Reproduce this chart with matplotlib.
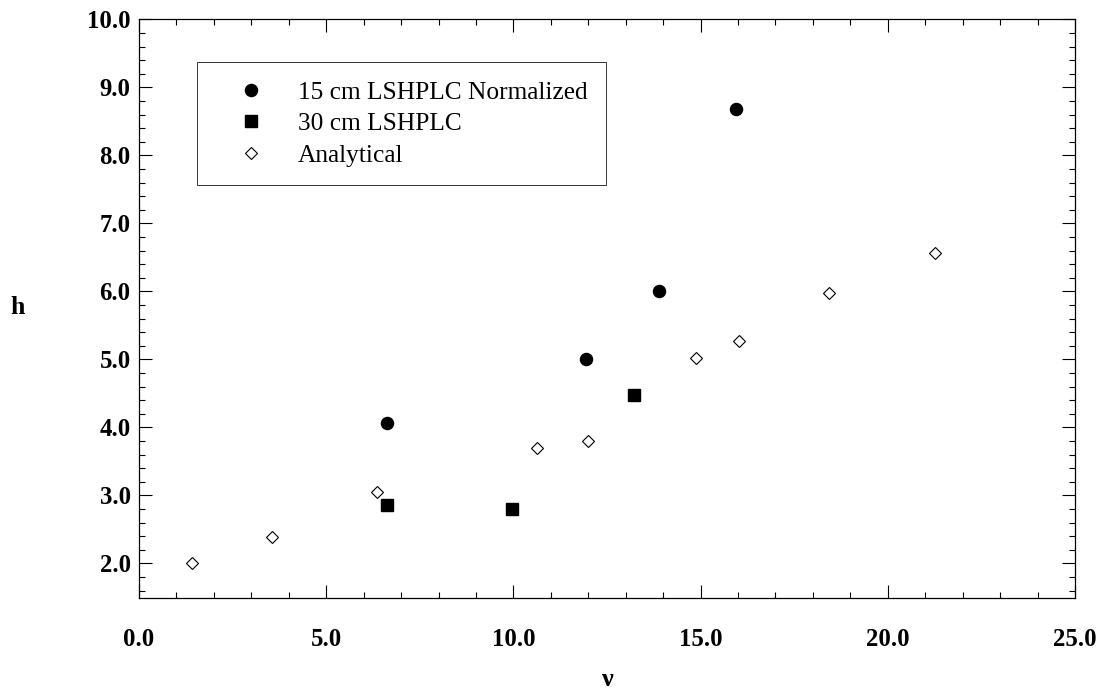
import matplotlib
matplotlib.use("Agg")
import matplotlib.pyplot as plt
from matplotlib.ticker import MultipleLocator, FormatStrFormatter

# Data
norm15_x = [6.62, 11.95, 13.9, 15.95]
norm15_h = [4.07, 5.01, 6.0, 8.68]

lshplc30_x = [6.62, 9.95, 13.23]
lshplc30_h = [2.86, 2.80, 4.48]

analytical_x = [1.42, 3.55, 6.37, 10.63, 11.98, 14.87, 16.02, 18.42, 21.25]
analytical_h = [2.00, 2.39, 3.05, 3.70, 3.80, 5.02, 5.27, 5.98, 6.56]

labels = ["15 cm LSHPLC Normalized", "30 cm LSHPLC", "Analytical"]

serif = ["Liberation Serif", "DejaVu Serif"]
plt.rcParams["font.family"] = serif

fig = plt.figure(figsize=(10.99, 6.91), dpi=100)
ax = fig.add_axes([139 / 1099, 1 - 597.5 / 691, (1075 - 139) / 1099, (597.5 - 19.3) / 691])

ax.plot(norm15_x, norm15_h, linestyle="none", marker="o", markersize=8.7,
        color="black", label=labels[0])
ax.plot(lshplc30_x, lshplc30_h, linestyle="none", marker="s", markersize=9.2,
        color="black", label=labels[1])
ax.plot(analytical_x, analytical_h, linestyle="none", marker="D", markersize=6.2,
        markerfacecolor="white", markeredgecolor="black", markeredgewidth=0.8,
        label=labels[2])

ax.set_xlim(0, 25)
ax.set_ylim(1.5, 10)
ax.xaxis.set_major_locator(MultipleLocator(5))
ax.xaxis.set_minor_locator(MultipleLocator(1))
ax.yaxis.set_major_locator(MultipleLocator(1))
ax.yaxis.set_minor_locator(MultipleLocator(0.2))
ax.xaxis.set_major_formatter(FormatStrFormatter("%.1f"))
ax.yaxis.set_major_formatter(FormatStrFormatter("%.1f"))
ax.set_yticks([2, 3, 4, 5, 6, 7, 8, 9, 10])

ax.tick_params(which="both", direction="in", top=True, right=True, width=0.8,
               colors="black")
ax.tick_params(which="major", length=9.5)
ax.tick_params(which="minor", length=4.5)
ax.tick_params(axis="x", which="major", pad=22)
ax.tick_params(axis="y", which="major", pad=6)
for lab in ax.get_xticklabels() + ax.get_yticklabels():
    lab.set_fontsize(17.8)
    lab.set_fontweight("bold")
for sp in ax.spines.values():
    sp.set_linewidth(0.9)

fig.text(18 / 1099, 1 - 307 / 691, "h", fontsize=18.5, fontweight="bold",
         ha="center", va="center")
fig.text(607 / 1099, 1 - 680 / 691, "ν", fontsize=19, fontweight="bold",
         ha="center", va="center")

leg = ax.legend(loc="upper left", bbox_to_anchor=((197.3 - 139) / 936, (597.5 - 62.3) / 578.2),
                borderaxespad=0, fontsize=18.3, frameon=True, fancybox=False,
                edgecolor="black", borderpad=0.73, handlelength=2.8,
                handletextpad=0.42, labelspacing=0.34, numpoints=1)
leg.get_frame().set_linewidth(0.7)

fig.savefig("out.png", dpi=100)
